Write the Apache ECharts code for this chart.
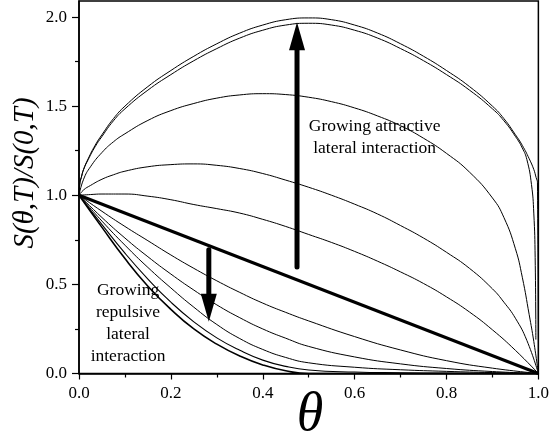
<!DOCTYPE html>
<html>
<head>
<meta charset="utf-8">
<script src="https://cdn.jsdelivr.net/npm/echarts@6/dist/echarts.min.js"></script>
<style>
  html, body { margin: 0; padding: 0; background: #fff; }
  #chart { width: 552px; height: 444px; }
</style>
</head>
<body>
<div id="chart"></div>
<script>
// Coverage dependence of the sticking coefficient, S(θ,T)/S(0,T),
// for attractive (upper family) and repulsive (lower family) lateral interactions.

const yTicks = [0, 0.5, 1.0, 1.5, 2.0];
const yMinorTicks = [0.25, 0.75, 1.25, 1.75];

// strongest attraction (outer and inner of the close pair)
const thetaA1 = [0, 0.002, 0.005, 0.01, 0.02, 0.035, 0.05, 0.075, 0.1, 0.15, 0.2, 0.25, 0.3, 0.35, 0.4, 0.45, 0.5, 0.55, 0.6, 0.65, 0.7, 0.75, 0.8, 0.85, 0.9, 0.925, 0.95, 0.965, 0.98, 0.99, 0.995, 0.998, 1.0];
const valsA1  = [1.0, 1.07, 1.10, 1.145, 1.205, 1.28, 1.34, 1.43, 1.50, 1.61, 1.70, 1.78, 1.85, 1.91, 1.955, 1.985, 1.995, 1.985, 1.955, 1.91, 1.85, 1.78, 1.70, 1.61, 1.50, 1.43, 1.34, 1.28, 1.205, 1.145, 1.10, 1.07, 0];

const thetaA2 = [0, 0.002, 0.005, 0.01, 0.02, 0.035, 0.05, 0.075, 0.1, 0.15, 0.2, 0.25, 0.3, 0.35, 0.4, 0.45, 0.5, 0.55, 0.6, 0.65, 0.7, 0.75, 0.8, 0.85, 0.9, 0.925, 0.95, 0.965, 0.975, 0.985, 0.99, 0.993, 0.9945];
const valsA2  = [1.0, 1.07, 1.10, 1.145, 1.20, 1.272, 1.33, 1.418, 1.485, 1.59, 1.677, 1.755, 1.823, 1.882, 1.926, 1.955, 1.965, 1.955, 1.926, 1.882, 1.823, 1.755, 1.677, 1.59, 1.485, 1.418, 1.33, 1.265, 1.20, 1.06, 0.90, 0.65, 0.19];

const thetaA3 = [0, 0.01, 0.025, 0.05, 0.075, 0.1, 0.15, 0.2, 0.25, 0.3, 0.35, 0.4, 0.45, 0.5, 0.55, 0.6, 0.65, 0.7, 0.75, 0.8, 0.85, 0.9, 0.925, 0.95, 0.965, 0.98, 0.99, 1.0];
const valsA3  = [1.0, 1.09, 1.16, 1.24, 1.30, 1.345, 1.42, 1.475, 1.515, 1.545, 1.563, 1.57, 1.565, 1.55, 1.525, 1.49, 1.445, 1.39, 1.32, 1.235, 1.13, 0.985, 0.875, 0.70, 0.54, 0.33, 0.18, 0];

const thetaA4 = [0, 0.01, 0.025, 0.05, 0.075, 0.1, 0.15, 0.2, 0.25, 0.3, 0.35, 0.4, 0.45, 0.5, 0.55, 0.6, 0.65, 0.7, 0.75, 0.8, 0.85, 0.9, 0.925, 0.95, 0.975, 1.0];
const valsA4  = [1.0, 1.03, 1.055, 1.09, 1.115, 1.135, 1.16, 1.172, 1.176, 1.168, 1.15, 1.122, 1.085, 1.045, 1.0, 0.95, 0.895, 0.83, 0.76, 0.68, 0.59, 0.475, 0.40, 0.31, 0.185, 0];

const thetaA5 = [0, 0.025, 0.05, 0.1, 0.15, 0.2, 0.25, 0.3, 0.35, 0.4, 0.45, 0.5, 0.55, 0.6, 0.65, 0.7, 0.75, 0.8, 0.85, 0.9, 0.95, 1.0];
const valsA5  = [1.0, 1.004, 1.007, 1.007, 0.995, 0.975, 0.948, 0.925, 0.90, 0.865, 0.825, 0.78, 0.735, 0.685, 0.63, 0.57, 0.505, 0.43, 0.345, 0.245, 0.13, 0];

// no lateral interaction
const thetaL = [0, 1.0];
const valsL  = [1.0, 0];

// repulsive family, weakest (R1) to strongest (R5)
const thetaR = [0, 0.05, 0.1, 0.15, 0.2, 0.25, 0.3, 0.35, 0.4, 0.45, 0.5, 0.6, 0.7, 0.8, 0.9, 1.0];
const valsR1 = [1.0, 0.91, 0.825, 0.745, 0.665, 0.59, 0.52, 0.455, 0.395, 0.343, 0.295, 0.207, 0.132, 0.072, 0.03, 0];
const valsR2 = [1.0, 0.875, 0.76, 0.655, 0.558, 0.468, 0.385, 0.313, 0.25, 0.198, 0.152, 0.093, 0.054, 0.028, 0.011, 0];
const valsR3 = [1.0, 0.855, 0.72, 0.595, 0.48, 0.372, 0.275, 0.196, 0.135, 0.09, 0.06, 0.035, 0.021, 0.012, 0.005, 0];
const valsR4 = [1.0, 0.835, 0.675, 0.53, 0.40, 0.29, 0.20, 0.13, 0.075, 0.04, 0.02, 0.008, 0.004, 0.002, 0.001, 0];
const valsR5 = [1.0, 0.82, 0.645, 0.49, 0.36, 0.25, 0.165, 0.098, 0.048, 0.015, 0, 0, 0, 0, 0, 0];

// arrows: [theta, tail value, tip value]
const arrows = [[0.4746, 0.598, 1.971], [0.2826, 0.694, 0.291]];

// annotation text anchors: [theta, value, text]
const notes = [
  [0.6435, 1.322, 'Growing attractive\nlateral interaction'],
  [0.1068, 0.281, 'Growing\nrepulsive\nlateral\ninteraction']
];

const serif = '"Liberation Serif", "Times New Roman", serif';
const zip = (xs, ys) => xs.map((x, i) => [x, ys[i]]);

function curve(name, xs, ys, width) {
  return {
    name, type: 'line', data: zip(xs, ys), smooth: 0.5,
    showSymbol: false, symbol: 'none', silent: true, z: 3,
    lineStyle: { color: '#000', width: width || 1 }
  };
}

const chart = echarts.init(document.getElementById('chart'), null, { renderer: 'canvas' });

chart.setOption({
  animation: false,
  backgroundColor: '#fff',
  grid: {
    left: 79, right: 9.5, top: 1, bottom: 70.5,
    show: true, borderColor: '#000', borderWidth: 1.5
  },
  xAxis: {
    type: 'value', min: 0, max: 1, interval: 0.2,
    axisLine: { lineStyle: { color: '#000', width: 1.5 } },
    axisTick: { inside: false, length: 6, lineStyle: { color: '#000', width: 1.2 } },
    minorTick: { show: true, splitNumber: 2, length: 4, lineStyle: { color: '#000', width: 1.2 } },
    splitLine: { show: false },
    axisLabel: {
      margin: 12, color: '#000', fontFamily: serif, fontSize: 17,
      formatter: v => v.toFixed(1)
    }
  },
  yAxis: [{
    type: 'value', min: 0, max: 2.09,
    axisLine: { lineStyle: { color: '#000', width: 1.5 } },
    axisTick: { inside: false, length: 7, customValues: yTicks, lineStyle: { color: '#000', width: 1.2 } },
    splitLine: { show: false },
    axisLabel: {
      margin: 12, color: '#000', fontFamily: serif, fontSize: 17,
      customValues: yTicks, formatter: v => v.toFixed(1)
    }
  }, {
    type: 'value', min: 0, max: 2.09, position: 'left',
    axisLine: { show: false },
    axisTick: { show: true, inside: false, length: 4, customValues: yMinorTicks, lineStyle: { color: '#000', width: 1.2 } },
    axisLabel: { show: false },
    splitLine: { show: false }
  }],
  series: [
    curve('A1', thetaA1, valsA1, 1),
    curve('A2', thetaA2, valsA2, 1),
    curve('A3', thetaA3, valsA3, 1),
    curve('A4', thetaA4, valsA4, 1),
    curve('A5', thetaA5, valsA5, 1),
    curve('L', thetaL, valsL, 3),
    curve('R1', thetaR, valsR1, 1),
    curve('R2', thetaR, valsR2, 1),
    curve('R3', thetaR, valsR3, 1),
    curve('R4', thetaR, valsR4, 1.1),
    curve('R5', thetaR, valsR5, 1.6),
    {
      type: 'custom', data: arrows, silent: true, z: 5,
      renderItem(params, api) {
        const x = api.value(0);
        const p0 = api.coord([x, api.value(1)]);
        const p1 = api.coord([x, api.value(2)]);
        const dir = Math.sign(p1[1] - p0[1]);
        const headLen = 28, headHalf = 8;
        const base = p1[1] - dir * headLen;
        return {
          type: 'group',
          children: [
            { type: 'line', shape: { x1: p0[0], y1: p0[1], x2: p0[0], y2: base + dir * 2 },
              style: { stroke: '#000', lineWidth: 5, lineCap: 'round' } },
            { type: 'polygon', shape: { points: [[p1[0], p1[1]], [p1[0] - headHalf, base], [p1[0] + headHalf, base]] },
              style: { fill: '#000' } }
          ]
        };
      }
    },
    {
      type: 'custom', data: notes.map(n => [n[0], n[1]]), silent: true, z: 6,
      renderItem(params, api) {
        const p = api.coord([api.value(0), api.value(1)]);
        return {
          type: 'text', x: p[0], y: p[1],
          style: {
            text: notes[params.dataIndex][2], fill: '#000',
            font: '17.5px ' + serif, lineHeight: 22,
            align: 'center', verticalAlign: 'middle'
          }
        };
      }
    }
  ],
  graphic: [
    { type: 'text', x: 25, y: 173, rotation: Math.PI / 2,
      style: { text: 'S(θ,T)/S(0,T)', fill: '#000', font: 'italic 29px ' + serif,
               align: 'center', verticalAlign: 'middle' } },
    { type: 'text', x: 310, y: 416,
      style: { text: 'θ', fill: '#000', font: 'italic 54px ' + serif,
               align: 'center', verticalAlign: 'middle' } }
  ]
});
</script>
</body>
</html>
